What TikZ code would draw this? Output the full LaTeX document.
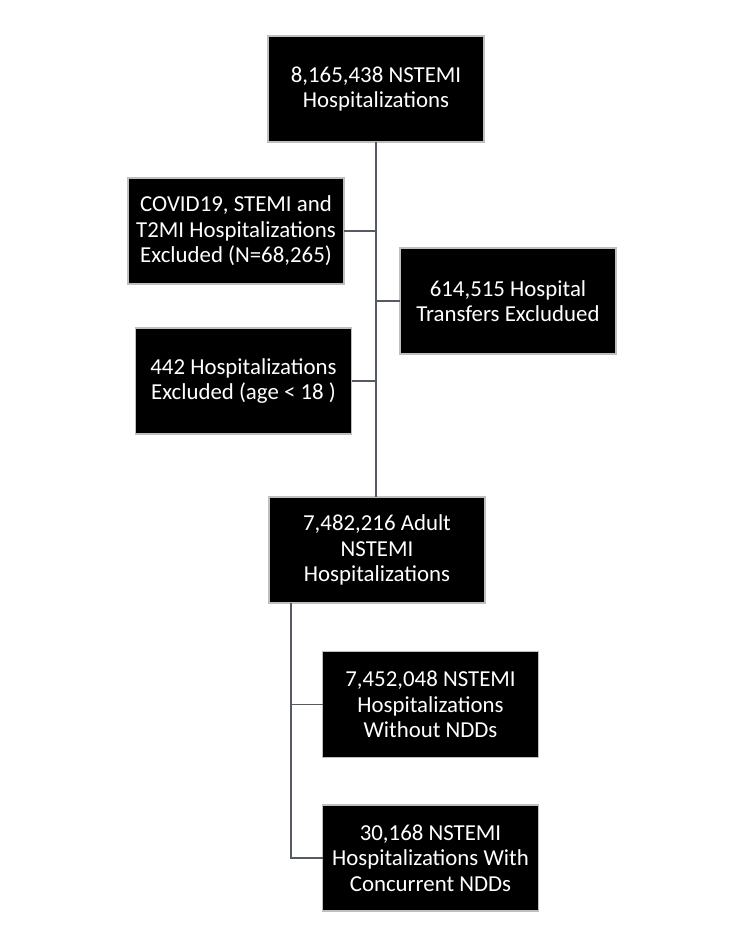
\documentclass[tikz,border=0pt]{standalone}
\usepackage{fontspec}
\setmainfont{Carlito}
\definecolor{fcLine}{HTML}{555A64}
\definecolor{fcEdge}{HTML}{BFBFBF}

\begin{document}
\begin{tikzpicture}[
  x=1cm,y=1cm,
  font=\fontsize{13}{14.6}\selectfont,
  every node/.style={align=flush center,outer sep=0pt},
  blk/.style={fill=black,draw=fcEdge,line width=0.6pt,text=white,
    minimum width=4.32cm,minimum height=2.12cm,text width=4.1cm,inner sep=2pt},
  link/.style={draw=fcLine,line width=1.1pt}
]
\path[use as bounding box,fill=white] (0,0) rectangle (15,18.64);
% main column
\node[blk] (total) at (7.52,16.86) {8,165,438 NSTEMI\\Hospitalizations};
\node[blk] (covid) at (4.72,14.02) {COVID19, STEMI and\\T2MI Hospitalizations\\Excluded (N=68,265)};
\node[blk] (transf) at (10.16,12.62) {614,515 Hospital\\Transfers Excludued};
\node[blk] (minors) at (4.87,11.02) {442 Hospitalizations\\Excluded (age < 18 )};
\node[blk] (adult) at (7.54,7.64) {7,482,216 Adult\\NSTEMI\\Hospitalizations};
% split by NDDs
\node[blk] (nondd) at (8.61,4.55) {7,452,048 NSTEMI\\Hospitalizations\\Without NDDs};
\node[blk] (ndd) at (8.61,1.48) {30,168 NSTEMI\\Hospitalizations With\\Concurrent NDDs};
\coordinate (split) at ([xshift=0.44cm]adult.south west);
\draw[link] (total.south) -- (total.south |- adult.north);
\draw[link] (covid.east) -- (covid.east -| total.south);
\draw[link] (transf.west) -- (transf.west -| total.south);
\draw[link] (minors.east) -- (minors.east -| total.south);
\draw[link] (split) |- (nondd.west);
\draw[link] (split) |- (ndd.west);
\end{tikzpicture}
\end{document}
